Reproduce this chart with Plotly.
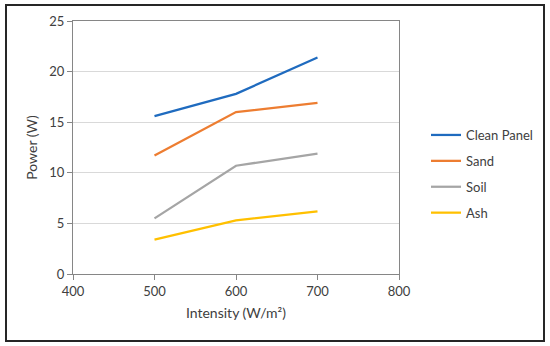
import plotly.graph_objects as go

intensity = [500, 600, 700]
clean_panel = [15.6, 17.8, 21.4]
sand = [11.7, 16.0, 16.9]
soil = [5.5, 10.7, 11.9]
ash = [3.4, 5.3, 6.2]

series = [
    ("Clean Panel", clean_panel, "#1F6BBF"),
    ("Sand", sand, "#ED7D31"),
    ("Soil", soil, "#A5A5A5"),
    ("Ash", ash, "#FFC000"),
]

fig = go.Figure()
for name, vals, color in series:
    fig.add_trace(go.Scatter(x=intensity, y=vals, mode="lines", name=name,
                             legendgroup=name,
                             line=dict(color=color, width=2.25)))

fam = "Lato, Open Sans, sans-serif"
L, R, T, B = 73, 399, 21, 274
W, H = 550, 346
pw, ph = R - L, B - T

def px_x(p):
    return (p - L) / pw

def px_y(p):
    return (B - p) / ph

fig.update_layout(
    width=W, height=H,
    margin=dict(l=L, r=W - R, t=T, b=H - B, autoexpand=False),
    paper_bgcolor="white", plot_bgcolor="white",
    font=dict(family=fam, size=13, color="#404040"),
    showlegend=True,
    legend=dict(x=px_x(426), y=px_y(120), xanchor="left", yanchor="top",
                font=dict(family=fam, size=13, color="#404040"),
                tracegroupgap=6, itemwidth=30, bgcolor="rgba(0,0,0,0)"),
    xaxis=dict(range=[400, 800], tickvals=[400, 500, 600, 700, 800],
               showgrid=False, zeroline=False,
               showline=True, linecolor="#868686", linewidth=1, mirror=True,
               ticks="outside", ticklen=5, tickcolor="#868686",
               title=dict(text="Intensity (W/m²)", standoff=10,
                          font=dict(family=fam, size=14, color="#404040"))),
    yaxis=dict(range=[0, 25], tickvals=[0, 5, 10, 15, 20, 25],
               showgrid=True, gridcolor="#D9D9D9", gridwidth=1, zeroline=False,
               showline=True, linecolor="#868686", linewidth=1, mirror=True,
               ticks="outside", ticklen=5, tickcolor="#868686",
               title=dict(text="Power (W)", standoff=8,
                          font=dict(family=fam, size=14, color="#404040"))),
    shapes=[dict(type="rect", xref="paper", yref="paper",
                 x0=px_x(6), x1=px_x(544), y0=px_y(341), y1=px_y(5),
                 line=dict(color="#262626", width=2), fillcolor="rgba(0,0,0,0)",
                 layer="below")],
)

fig.write_html("out.html",
               config={"displayModeBar": False},
               post_script="document.body.style.margin='0';document.body.style.padding='0';")
